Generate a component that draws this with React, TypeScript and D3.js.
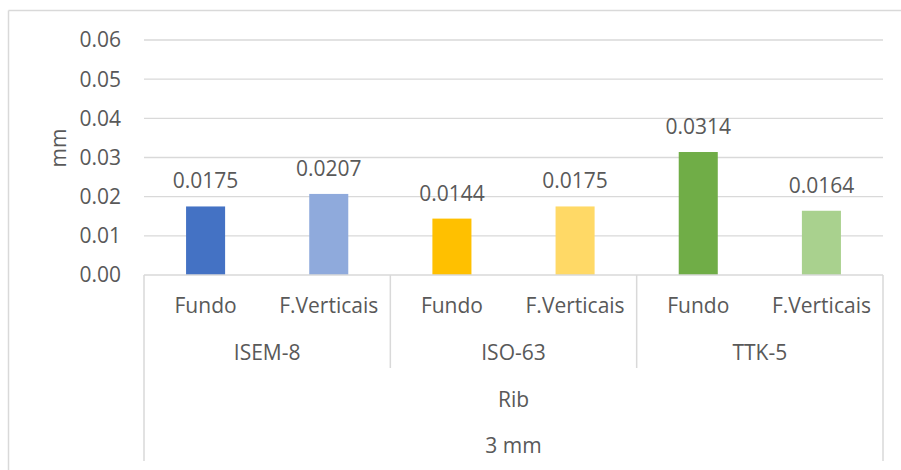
import React from "react";
import * as d3 from "d3";

// Bar values (mm) per sub-category, grouped by material
const groups = ["ISEM-8", "ISO-63", "TTK-5"];
const subCategories = ["Fundo", "F.Verticais"];
const values = [0.0175, 0.0207, 0.0144, 0.0175, 0.0314, 0.0164];
const barColors = ["#4472C4", "#8FAADC", "#FFC000", "#FFD966", "#70AD47", "#A9D18E"];
const yTicks = [0, 0.01, 0.02, 0.03, 0.04, 0.05, 0.06];
const level3Label = "Rib";
const level4Label = "3 mm";
const yAxisTitle = "mm";

const W = 901;
const H = 470;
const left = 144;
const right = 883;
const top = 40;
const bottom = 275;
const font = "'Open Sans', 'Noto Sans', sans-serif";
const fontSize = 21;
const textColor = "#595959";
const lineColor = "#d9d9d9";

export default function App() {
  const cats = groups.flatMap((g) => subCategories.map((s) => `${g}|${s}`));
  const x = d3.scaleBand<string>().domain(cats).range([left, right]).padding(0);
  const y = d3.scaleLinear().domain([0, 0.06]).range([bottom, top]);
  const step = x.step();
  const barW = step * 0.317;
  const groupW = step * subCategories.length;
  const fmtTick = d3.format(".2f");

  return (
    <svg
      width={W}
      height={H}
      style={{ position: "absolute", left: 0, top: 0, background: "#fff" }}
      fontFamily={font}
    >
      {/* chart frame */}
      <line x1={8.5} x2={W} y1={10.5} y2={10.5} stroke={lineColor} strokeWidth={1.5} />
      <line x1={8.5} x2={8.5} y1={10.5} y2={H} stroke={lineColor} strokeWidth={1.5} />

      {/* gridlines and y tick labels */}
      {yTicks.map((t) => (
        <g key={t}>
          {t > 0 && (
            <line x1={left} x2={right} y1={y(t)} y2={y(t)} stroke={lineColor} strokeWidth={1.3} />
          )}
          <text x={121} y={y(t)} dy="0.35em" textAnchor="end" fontSize={fontSize} fill={textColor}>
            {fmtTick(t)}
          </text>
        </g>
      ))}

      {/* y axis title */}
      <text
        transform={`translate(66,148) rotate(-90)`}
        textAnchor="middle"
        fontSize={fontSize}
        fill={textColor}
      >
        {yAxisTitle}
      </text>

      {/* bars and value labels */}
      {cats.map((c, i) => {
        const cx = (x(c) as number) + step / 2;
        return (
          <g key={c}>
            <rect
              x={cx - barW / 2}
              y={y(values[i])}
              width={barW}
              height={bottom - y(values[i])}
              fill={barColors[i]}
            />
            <text x={cx} y={y(values[i]) - 18} textAnchor="middle" fontSize={fontSize} fill={textColor}>
              {values[i].toFixed(4)}
            </text>
          </g>
        );
      })}

      {/* horizontal axis line */}
      <line x1={left} x2={right} y1={bottom} y2={bottom} stroke={lineColor} strokeWidth={1.5} />

      {/* outer category dividers */}
      <line x1={left} x2={left} y1={bottom} y2={461} stroke={lineColor} strokeWidth={1.5} />
      <line x1={right} x2={right} y1={bottom} y2={461} stroke={lineColor} strokeWidth={1.5} />

      {/* group dividers */}
      {groups.slice(1).map((g, gi) => {
        const gx = left + groupW * (gi + 1);
        return (
          <line key={g} x1={gx} x2={gx} y1={bottom} y2={368} stroke={lineColor} strokeWidth={1.5} />
        );
      })}

      {/* sub-category labels */}
      {cats.map((c, i) => (
        <text
          key={`l-${c}`}
          x={(x(c) as number) + step / 2}
          y={313}
          textAnchor="middle"
          fontSize={fontSize}
          fill={textColor}
        >
          {subCategories[i % subCategories.length]}
        </text>
      ))}

      {/* group labels */}
      {groups.map((g, gi) => (
        <text
          key={`g-${g}`}
          x={left + groupW * gi + groupW / 2}
          y={360}
          textAnchor="middle"
          fontSize={fontSize}
          fill={textColor}
        >
          {g}
        </text>
      ))}

      <text x={(left + right) / 2} y={406.5} textAnchor="middle" fontSize={fontSize} fill={textColor}>
        {level3Label}
      </text>
      <text x={(left + right) / 2} y={453} textAnchor="middle" fontSize={fontSize} fill={textColor}>
        {level4Label}
      </text>
    </svg>
  );
}
